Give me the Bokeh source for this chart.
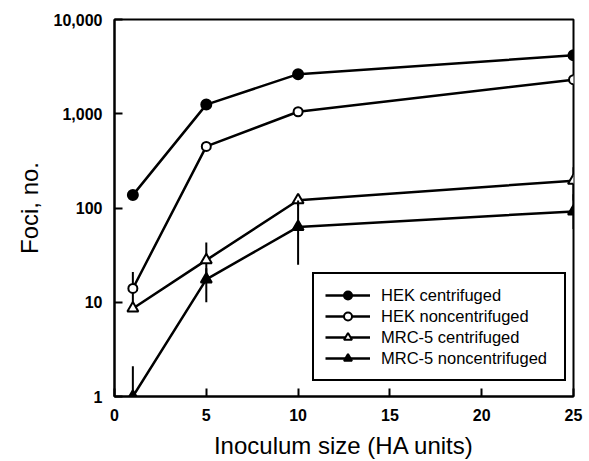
from bokeh.plotting import figure
from bokeh.models import Range1d, FixedTicker, NumeralTickFormatter, Legend, LegendItem
from bokeh.embed import file_html
from bokeh.resources import INLINE

x = [1, 5, 10, 25]
hek_cent = [137, 1250, 2630, 4170]
hek_noncent = [14, 450, 1050, 2300]
mrc_cent = [8.6, 28, 121, 195]
mrc_noncent = [1, 17.5, 63, 92]

# error bars: (x, low, high)
hek_cent_err_x = [5]
hek_cent_err_lo = [1150]
hek_cent_err_hi = [1400]
hek_noncent_err_x = [1]
hek_noncent_err_lo = [9.5]
hek_noncent_err_hi = [21]
mrc_cent_err_x = [5, 10, 25]
mrc_cent_err_lo = [17, 105, 120]
mrc_cent_err_hi = [43, 140, 270]
mrc_noncent_err_x = [1, 5, 10, 25]
mrc_noncent_err_lo = [1, 10, 25, 60]
mrc_noncent_err_hi = [2.1, 23, 120, 140]

x_ticks = [0, 5, 10, 15, 20, 25]
y_ticks = [1, 10, 100, 1000, 10000]

FONT = "Liberation Sans"

p = figure(width=589, height=461, y_axis_type="log",
           x_range=Range1d(0, 25), y_range=Range1d(1, 10000),
           output_backend="svg", toolbar_location=None,
           min_border_left=114, min_border_right=16, min_border_top=19, min_border_bottom=63)
p.grid.visible = False
p.outline_line_color = "black"
p.outline_line_width = 2
p.background_fill_color = "white"
p.border_fill_color = "white"

for ax in (p.xaxis, p.yaxis):
    ax.axis_line_width = 2
    ax.axis_line_color = "black"
    ax.major_tick_line_width = 2
    ax.major_tick_in = 8
    ax.major_tick_out = 0
    ax.minor_tick_line_color = None
    ax.major_label_text_font = FONT
    ax.major_label_text_font_size = "16px"
    ax.major_label_text_font_style = "bold"
    ax.major_label_text_color = "black"
    ax.axis_label_text_font = FONT
    ax.axis_label_text_font_size = "24px"
    ax.axis_label_text_font_style = "normal"
    ax.axis_label_text_color = "black"

p.xaxis.ticker = FixedTicker(ticks=x_ticks)
p.yaxis.ticker = FixedTicker(ticks=y_ticks)
p.yaxis.formatter = NumeralTickFormatter(format="0,0")
p.xaxis.axis_label = "Inoculum size (HA units)"
p.yaxis.axis_label = "Foci, no."
p.xaxis.major_label_standoff = 12
p.yaxis.major_label_standoff = 12
p.xaxis.axis_label_standoff = 8
p.yaxis.axis_label_standoff = 8

LW = 2.5
items = []
series = [
    ("HEK centrifuged", hek_cent, "circle", "black", 10, hek_cent_err_x, hek_cent_err_lo, hek_cent_err_hi),
    ("HEK noncentrifuged", hek_noncent, "circle", "white", 9, hek_noncent_err_x, hek_noncent_err_lo, hek_noncent_err_hi),
    ("MRC-5 centrifuged", mrc_cent, "triangle", "white", 11, mrc_cent_err_x, mrc_cent_err_lo, mrc_cent_err_hi),
    ("MRC-5 noncentrifuged", mrc_noncent, "triangle", "black", 11, mrc_noncent_err_x, mrc_noncent_err_lo, mrc_noncent_err_hi),
]
for name, ys, marker, fill, size, ex, elo, ehi in series:
    p.segment(x0=ex, x1=ex, y0=elo, y1=ehi, line_color="black", line_width=2)
    l = p.line(x, ys, line_color="black", line_width=LW)
    s = p.scatter(x, ys, marker=marker, size=size, fill_color=fill, line_color="black", line_width=2)
    items.append(LegendItem(label=name, renderers=[l, s]))

legend = Legend(items=items, location=(198, 15))
legend.border_line_color = "black"
legend.border_line_alpha = 1
legend.border_line_width = 2
legend.label_text_font = FONT
legend.label_text_font_size = "16.5px"
legend.label_text_color = "black"
legend.glyph_width = 45
legend.glyph_height = 20
legend.label_height = 20
legend.label_width = 172
legend.spacing = 1
legend.padding = 11
legend.margin = 0
legend.label_standoff = 11
legend.background_fill_alpha = 1
p.add_layout(legend, "center")

open("out.html", "w").write(file_html(p, INLINE))
